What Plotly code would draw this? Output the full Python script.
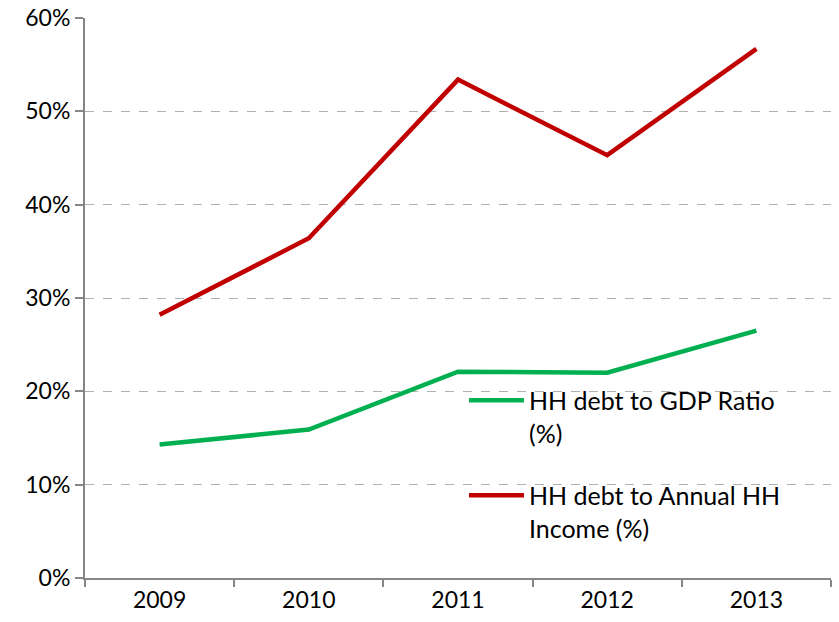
import plotly.graph_objects as go

years = ["2009", "2010", "2011", "2012", "2013"]
gdp_ratio = [14.3, 15.9, 22.1, 22.0, 26.5]
income_ratio = [28.2, 36.4, 53.4, 45.3, 56.7]

fig = go.Figure()
fig.add_trace(go.Scatter(x=years, y=gdp_ratio, mode="lines",
                         name="HH debt to GDP Ratio<br>(%)", legendgroup="a",
                         line=dict(color="#00B050", width=4.5)))
fig.add_trace(go.Scatter(x=years, y=income_ratio, mode="lines",
                         name="HH debt to Annual HH<br>Income (%)", legendgroup="b",
                         line=dict(color="#C00000", width=4.5)))

fig.update_layout(
    width=839, height=622,
    margin=dict(l=85, r=8, t=18, b=44),
    plot_bgcolor="white", paper_bgcolor="white",
    font=dict(family="Lato, 'Open Sans', sans-serif", size=23, color="black"),
    legend=dict(x=0.508, y=0.358, xanchor="left", yanchor="top", valign="top",
                bgcolor="rgba(0,0,0,0)", tracegroupgap=27, itemwidth=55,
                font=dict(size=25)),
)
fig.update_xaxes(type="category", range=[-0.5, 4.5], automargin=False,
                 showline=True, linecolor="#868686", linewidth=2,
                 ticks="outside", tickson="boundaries", ticklen=7, tickcolor="#868686",
                 tickwidth=2, showgrid=False, tickfont=dict(size=23))
fig.update_yaxes(range=[0, 60], dtick=10, ticksuffix="%", automargin=False,
                 ticklabeloverflow="allow",
                 showline=True, linecolor="#868686", linewidth=2, ticks="outside",
                 ticklen=8, tickcolor="#868686", tickwidth=2, showgrid=True,
                 gridcolor="#b0b0b0", griddash="dash", gridwidth=1, zeroline=False,
                 tickfont=dict(size=23))

fig.write_html("out.html", config={"displayModeBar": False},
               post_script="document.body.style.margin='0';document.body.style.overflow='hidden';")
